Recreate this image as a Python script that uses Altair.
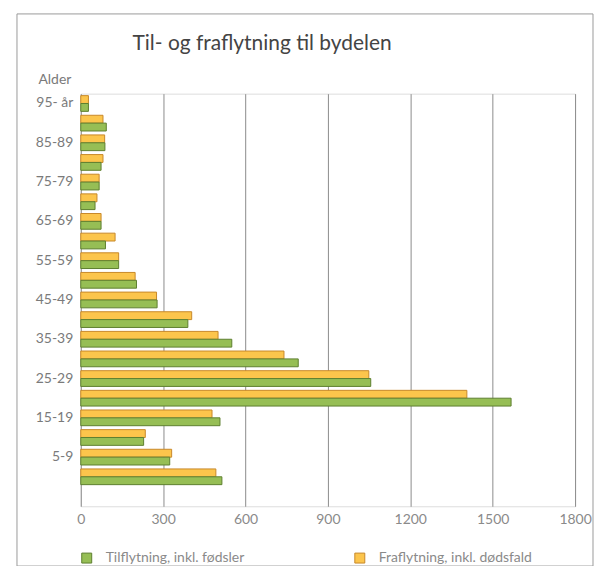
import altair as alt
import pandas as pd

ages = ["95- år", "90-94", "85-89", "80-84", "75-79", "70-74", "65-69", "60-64",
        "55-59", "50-54", "45-49", "40-44", "35-39", "30-34", "25-29", "20-24",
        "15-19", "10-14", "5-9", "0-4"]
shown_labels = ["95- år", "85-89", "75-79", "65-69", "55-59", "45-49",
                "35-39", "25-29", "15-19", "5-9"]
tilflytning = [28, 93, 88, 74, 67, 52, 74, 90, 138, 203, 278, 390, 550, 792,
               1056, 1567, 507, 229, 324, 514]
fraflytning = [28, 81, 87, 81, 67, 59, 74, 125, 138, 198, 276, 404, 500, 740,
               1049, 1406, 478, 235, 331, 492]
x_ticks = [0, 300, 600, 900, 1200, 1500, 1800]

S_TIL = "Tilflytning, inkl. fødsler"
S_FRA = "Fraflytning, inkl. dødsfald"
TITLE = "Til- og fraflytning til bydelen"
FONT = "Lato"

rows = []
for a, t, f in zip(ages, tilflytning, fraflytning):
    rows.append({"alder": a, "serie": S_FRA, "antall": f})
    rows.append({"alder": a, "serie": S_TIL, "antall": t})
df = pd.DataFrame(rows)

label_expr = "indexof([" + ",".join("'" + s + "'" for s in shown_labels) + "], datum.label) >= 0 ? datum.label : ''"

bars = alt.Chart(df).mark_bar(strokeWidth=1).encode(
    x=alt.X("antall:Q",
            scale=alt.Scale(domain=[0, 1800], nice=False),
            axis=alt.Axis(values=x_ticks, format="d", title=None, ticks=False, domain=False,
                          grid=True, gridColor="#8c8c8c", gridWidth=1,
                          labelFont=FONT, labelFontSize=14, labelColor="#8a8a8a",
                          labelPadding=6, labelFlush=False)),
    y=alt.Y("alder:N",
            scale=alt.Scale(domain=ages + [" "], paddingInner=0.2, paddingOuter=0.1),
            axis=alt.Axis(title="Alder", titleAngle=0, titleAlign="left",
                          titleBaseline="alphabetic", titleX=-43, titleY=-10,
                          titleFont=FONT, titleFontSize=14, titleFontWeight="normal",
                          titleColor="#7a7a7a",
                          ticks=False, domain=False, grid=False,
                          labelFont=FONT, labelFontSize=14, labelColor="#7a7a7a",
                          labelPadding=8, labelExpr=label_expr)),
    yOffset=alt.YOffset("serie:N", scale=alt.Scale(domain=[S_FRA, S_TIL], paddingInner=0, paddingOuter=0)),
    color=alt.Color("serie:N",
                    scale=alt.Scale(domain=[S_TIL, S_FRA], range=["#96be55", "#fcc54c"]),
                    legend=alt.Legend(title=None, orient="none", legendX=-1, legendY=459,
                                      direction="horizontal", columns=2, columnPadding=108,
                                      symbolType="square", symbolSize=100,
                                      symbolStrokeWidth=1, labelOffset=12,
                                      labelFont=FONT, labelFontSize=14, labelColor="#8a8a8a",
                                      labelLimit=300)),
    stroke=alt.Stroke("serie:N",
                      scale=alt.Scale(domain=[S_TIL, S_FRA], range=["#5e7f30", "#c8892a"]),
                      legend=None),
)

title = alt.Chart(pd.DataFrame({"t": [TITLE]})).mark_text(
    font=FONT, fontSize=21, color="#444444", align="left", baseline="alphabetic"
).encode(text="t:N", x=alt.value(52), y=alt.value(-44))

frame = alt.Chart(pd.DataFrame({"f": [1]})).mark_rect(
    fill=None, stroke="#9a9a9a", strokeWidth=1
).encode(x=alt.value(-64), x2=alt.value(514), y=alt.value(-80), y2=alt.value(474))

chart = alt.layer(frame, bars, title).properties(
    width=496, height=414,
    padding={"left": 8, "top": 4, "right": 0, "bottom": 0},
).configure_view(stroke="#8c8c8c", strokeWidth=1).configure(background="white")

chart.save("out.html", embed_options={"renderer": "svg", "actions": False})
